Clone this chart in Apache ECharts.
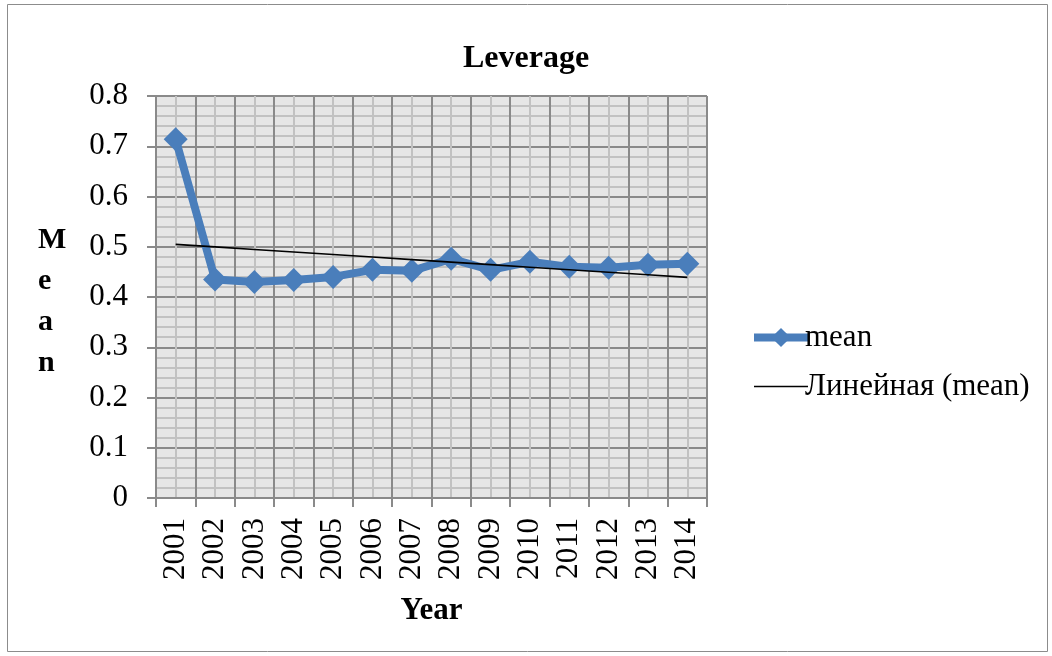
<!DOCTYPE html>
<html>
<head>
<meta charset="utf-8">
<script src="https://cdn.jsdelivr.net/npm/echarts@6/dist/echarts.min.js"></script>
<style>
  html, body { margin: 0; padding: 0; background: #fff; }
  #chart { width: 1052px; height: 656px; }
</style>
</head>
<body>
<div id="chart"></div>
<script>
// Mean leverage by year
const years = ['2001', '2002', '2003', '2004', '2005', '2006', '2007',
               '2008', '2009', '2010', '2011', '2012', '2013', '2014'];
const meanValues = [0.714, 0.435, 0.430, 0.434, 0.440, 0.454, 0.452,
                    0.476, 0.454, 0.470, 0.460, 0.458, 0.464, 0.466];
const yTicks = [0, 0.1, 0.2, 0.3, 0.4, 0.5, 0.6, 0.7, 0.8];

// Least-squares linear trend of the mean series
function linearTrend(vals) {
  const n = vals.length;
  let sx = 0, sy = 0, sxy = 0, sxx = 0;
  vals.forEach((v, i) => { const x = i + 1; sx += x; sy += v; sxy += x * v; sxx += x * x; });
  const slope = (n * sxy - sx * sy) / (n * sxx - sx * sx);
  const icpt = (sy - slope * sx) / n;
  return vals.map((v, i) => +(icpt + slope * (i + 1)).toFixed(5));
}
const trendValues = linearTrend(meanValues);

const serif = '"Liberation Serif", "Times New Roman", serif';
const blue = '#4a7ebb';
const majorLine = { color: '#8a8a8a', width: 2 };
const minorLine = { color: '#c2c2c2', width: 2 };

const chart = echarts.init(document.getElementById('chart'));
chart.setOption({
  animation: false,
  backgroundColor: '#fff',
  title: {
    text: 'Leverage',
    left: 521, top: 38, textAlign: 'center',
    textStyle: { fontFamily: serif, fontSize: 32, fontWeight: 'bold', color: '#000' }
  },
  grid: {
    left: 156, right: 345, top: 96, bottom: 158,
    show: true, backgroundColor: '#e6e6e6', borderWidth: 0
  },
  legend: {
    orient: 'vertical',
    left: 745, top: 317,
    itemWidth: 54, itemHeight: 24, itemGap: 18,
    textStyle: { fontFamily: serif, fontSize: 31, color: '#000', padding: [0, 0, 0, -8] },
    data: [
      { name: 'mean', lineStyle: { width: 8, color: blue }, itemStyle: { color: blue } },
      { name: 'Линейная (mean)', lineStyle: { width: 1.6, color: '#000' }, itemStyle: { opacity: 0 } }
    ]
  },
  xAxis: [
    {
      type: 'category',
      data: years,
      boundaryGap: true,
      axisLine: { lineStyle: majorLine },
      axisTick: { show: true, interval: 0, length: 9, lineStyle: majorLine },
      axisLabel: { interval: 0, rotate: 90, margin: 20, fontFamily: serif, fontSize: 31, color: '#000' },
      splitLine: { show: false },
      name: 'Year',
      nameLocation: 'middle',
      nameGap: 97,
      nameTextStyle: { fontFamily: serif, fontSize: 31, fontWeight: 'bold', color: '#000' }
    },
    {
      // grid lines: heavy at category edges, light at category centres
      type: 'value',
      min: 0, max: years.length, interval: 1,
      position: 'bottom',
      axisLine: { show: false },
      axisTick: { show: false },
      axisLabel: { show: false },
      splitLine: { show: true, lineStyle: majorLine },
      minorTick: { show: false, splitNumber: 2 },
      minorSplitLine: { show: true, lineStyle: minorLine }
    }
  ],
  yAxis: {
    type: 'value',
    min: yTicks[0], max: yTicks[yTicks.length - 1], interval: 0.1,
    axisLine: { show: true, lineStyle: majorLine },
    axisTick: { show: true, length: 9, lineStyle: majorLine },
    axisLabel: {
      margin: 28, fontFamily: serif, fontSize: 31, color: '#000',
      formatter: v => String(+v.toFixed(1))
    },
    splitLine: { show: true, lineStyle: majorLine },
    minorTick: { show: false, splitNumber: 5 },
    minorSplitLine: { show: true, lineStyle: minorLine }
  },
  graphic: [
    {
      type: 'rect', silent: true, z: -1,
      shape: { x: 7.5, y: 4.5, width: 1040, height: 647 },
      style: { fill: 'none', stroke: '#8c8c8c', lineWidth: 1 }
    },
    {
      type: 'text', left: 38, top: 220, silent: true,
      style: {
        text: 'M\ne\na\nn', align: 'center',
        font: 'bold 30px ' + serif, fill: '#000', lineHeight: 41
      }
    }
  ],
  series: [
    {
      name: 'mean',
      type: 'line',
      xAxisIndex: 0,
      data: meanValues,
      symbol: 'diamond',
      symbolSize: 24,
      showSymbol: true,
      lineStyle: { color: blue, width: 8 },
      itemStyle: { color: blue },
      z: 3
    },
    {
      name: 'Линейная (mean)',
      type: 'line',
      xAxisIndex: 0,
      data: trendValues,
      symbol: 'none',
      lineStyle: { color: '#000', width: 1.6 },
      itemStyle: { color: '#000' },
      z: 4
    }
  ]
});
</script>
</body>
</html>
